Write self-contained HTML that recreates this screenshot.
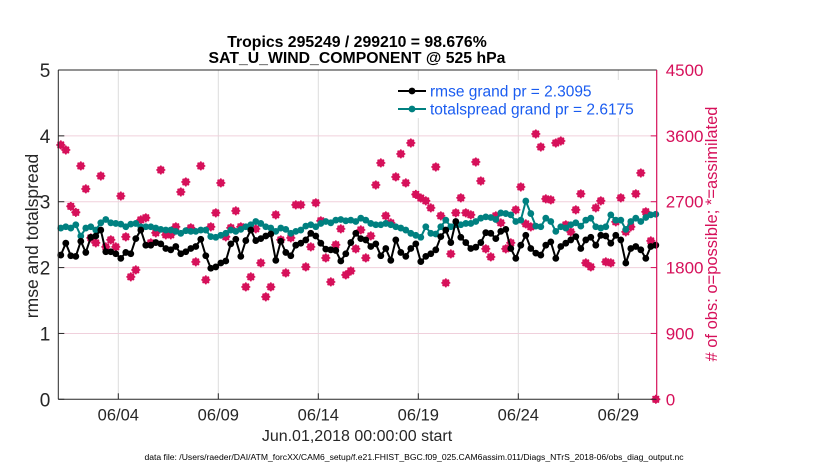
<!DOCTYPE html>
<html><head><meta charset="utf-8"><style>
html,body{margin:0;padding:0;background:#fff;}
svg{display:block;font-family:"Liberation Sans",sans-serif;}
</style></head><body>
<svg id="chart" width="830" height="470" viewBox="0 0 830 470">
<text x="357" y="47" text-anchor="middle" font-size="15.8" font-weight="bold">Tropics 295249 / 299210 = 98.676%</text>
<text x="357" y="63" text-anchor="middle" font-size="15.8" font-weight="bold">SAT_U_WIND_COMPONENT @ 525 hPa</text>
<g id="grid"></g>
<g id="series"></g>
<g id="axes"></g>
<text x="357" y="441" text-anchor="middle" font-size="16" fill="#262626">Jun.01,2018 00:00:00 start</text>
<text transform="translate(38,236) rotate(-90)" text-anchor="middle" font-size="17.5" fill="#262626">rmse and totalspread</text>
<text transform="translate(717,234) rotate(-90)" text-anchor="middle" font-size="16.5" fill="#d6105a"># of obs: o=possible; *=assimilated</text>
<text x="414" y="460" text-anchor="middle" font-size="8.6" fill="#000">data file: /Users/raeder/DAI/ATM_forcXX/CAM6_setup/f.e21.FHIST_BGC.f09_025.CAM6assim.011/Diags_NTrS_2018-06/obs_diag_output.nc</text>
<g id="legend"></g>
</svg>
<script>
const xTickLabels=["06/04","06/09","06/14","06/19","06/24","06/29"];
const xTickDays=[3,8,13,18,23,28];
const yLeftTicks=[0,1,2,3,4,5];
const yRightTicks=[0,900,1800,2700,3600,4500];
const rmse=[2.19,2.37,2.18,2.17,2.40,2.23,2.46,2.48,2.57,2.24,2.24,2.21,2.14,2.23,2.21,2.44,2.57,2.34,2.34,2.38,2.36,2.29,2.27,2.32,2.21,2.24,2.29,2.32,2.43,2.18,1.99,2.01,2.07,2.10,2.36,2.43,2.17,2.41,2.57,2.41,2.44,2.48,2.51,2.11,2.40,2.23,2.18,2.34,2.37,2.42,2.52,2.48,2.37,2.28,2.27,2.26,2.10,2.21,2.38,2.52,
2.44,2.42,2.32,2.36,2.18,2.29,2.11,2.42,2.23,2.17,2.29,2.36,2.09,2.17,2.21,2.27,2.47,2.57,2.38,2.70,2.46,2.38,2.29,2.31,2.38,2.53,2.52,2.44,2.55,2.58,2.29,2.14,2.34,2.49,2.29,2.22,2.19,2.34,2.39,2.14,2.32,2.37,2.42,2.47,2.29,2.42,2.46,2.34,2.49,2.48,2.37,2.49,2.42,2.07,2.29,2.32,2.27,2.14,2.32,2.34];
const spread=[2.60,2.62,2.60,2.65,2.48,2.60,2.62,2.57,2.68,2.73,2.68,2.67,2.66,2.62,2.66,2.67,2.62,2.62,2.62,2.60,2.58,2.57,2.57,2.55,2.52,2.56,2.55,2.55,2.57,2.57,2.47,2.46,2.49,2.52,2.57,2.55,2.58,2.62,2.65,2.70,2.67,2.62,2.60,2.55,2.60,2.58,2.52,2.55,2.57,2.63,2.65,2.62,2.67,2.70,2.68,2.72,2.73,2.71,2.72,2.70,
2.75,2.72,2.67,2.65,2.65,2.67,2.65,2.62,2.60,2.57,2.52,2.49,2.46,2.62,2.52,2.51,2.62,2.72,2.62,2.65,2.65,2.67,2.67,2.70,2.75,2.77,2.76,2.73,2.83,2.82,2.80,2.70,2.72,3.01,2.82,2.63,2.62,2.75,2.70,2.55,2.62,2.60,2.65,2.68,2.63,2.72,2.75,2.62,2.60,2.62,2.80,2.72,2.72,2.58,2.70,2.75,2.70,2.76,2.80,2.81];
const obsCount=[3476,3407,2637,2555,3189,2875,2206,2138,3052,2083,2179,2083,2778,2220,1673,1768,2452,2480,2138,2275,3134,2247,2247,2357,2833,2970,2343,1878,3189,1632,2357,2548,
2957,2220,2343,2575,2357,1536,1673,2329,1864,1400,1536,2521,2179,1727,2206,2657,2657,1809,2083,2685,2439,1932,1604,2111,2329,1700,1754,2056,
2315,1932,2233,2929,3230,2507,2411,3039,3353,2957,3503,2800,2750,
2712,2616,3175,2507,1591,1987,2548,2753,2548,2521,3243,2984,2056,1946,2507,2411,2056,2138,2589,2902,2397,2357,3626,3448,2739,2725,3503,3530,2384,2288,2589,2808,1864,1809,2616,2712,1878,1864,2425,2753,2288,2357,2808,3093,2562,2165,0];

const NS="http://www.w3.org/2000/svg";
const X0=58.3,X1=656.7,Y0=399.3,Y1=70;
const dMin=0,dMax=29.92;
function xs(d){return X0+(d-dMin)/(dMax-dMin)*(X1-X0);}
function yl(v){return Y0-v/5*(Y0-Y1);}
function yr(v){return Y0-v/4500*(Y0-Y1);}
function dayOf(i){return 0.125+0.25*i;}
function mk(tag,attrs,parent){const e=document.createElementNS(NS,tag);for(const k in attrs)e.setAttribute(k,attrs[k]);parent.appendChild(e);return e;}
const grid=document.getElementById('grid'),axes=document.getElementById('axes'),ser=document.getElementById('series'),leg=document.getElementById('legend');
mk('rect',{x:X0,y:Y1,width:X1-X0,height:Y0-Y1,fill:'#fff'},grid);
xTickDays.forEach((d,k)=>{
  const l=mk('line',{x1:xs(d),x2:xs(d),y1:Y1,y2:Y0,stroke:'#dcdcdc','stroke-width':1},grid);
  
  
  mk('line',{x1:xs(d),x2:xs(d),y1:Y0,y2:Y0-6,stroke:'#262626','stroke-width':1},axes);
  const tx=mk('text',{x:xs(d),y:Y0+21,'text-anchor':'middle','font-size':16.5,fill:'#262626'},axes);
  tx.textContent=xTickLabels[k];
  
  
});
yRightTicks.forEach(v=>{
  if(v>0&&v<4500){const l=mk('line',{x1:X0,x2:X1,y1:yr(v),y2:yr(v),stroke:'#f0d0dc','stroke-width':1},grid);
  
  }
  mk('line',{x1:X1,x2:X1-6,y1:yr(v),y2:yr(v),stroke:'#d6105a'},axes);
  const t=mk('text',{x:X1+9,y:yr(v)+6,'font-size':17,fill:'#d6105a'},axes);
  t.textContent=String(v);
  
  
});
yLeftTicks.forEach(v=>{
  mk('line',{x1:X0,x2:X0+6,y1:yl(v),y2:yl(v),stroke:'#262626'},axes);
  const t=mk('text',{x:X0-8,y:yl(v)+7,'text-anchor':'end','font-size':19,fill:'#262626'},axes);
  t.textContent=String(v);
  
  
});
mk('line',{x1:X0,x2:X1,y1:Y1,y2:Y1,stroke:'#262626'},axes);
mk('line',{x1:X0,x2:X1,y1:Y0,y2:Y0,stroke:'#262626'},axes);
mk('line',{x1:X0,x2:X0,y1:Y1,y2:Y0,stroke:'#262626'},axes);
mk('line',{x1:X1,x2:X1,y1:Y1,y2:Y0,stroke:'#d6105a','stroke-width':1.2},axes);

obsCount.forEach((c,i)=>{
  const x=xs(dayOf(i)),y=yr(c);
  const g=mk('g',{stroke:'#d6105a','stroke-width':1.6,fill:'none'},ser);
  
  
  mk('circle',{cx:x,cy:y,r:3},g);
  mk('path',{d:`M${x-4.5},${y}H${x+4.5}M${x},${y-4.5}V${y+4.5}M${x-3.2},${y-3.2}L${x+3.2},${y+3.2}M${x-3.2},${y+3.2}L${x+3.2},${y-3.2}`},g);
});
function line(vals,color,name){
  const pts=vals.map((v,i)=>xs(dayOf(i)).toFixed(1)+','+yl(v).toFixed(1)).join(' ');
  const p=mk('polyline',{points:pts,fill:'none',stroke:color,'stroke-width':2},ser);
  
  
  vals.forEach((v,i)=>{
    const c=mk('circle',{cx:xs(dayOf(i)),cy:yl(v),r:3.4,fill:color},ser);
    
    
  });
}
line(spread,'#008080','totalspread');
line(rmse,'#000000','rmse');
mk('rect',{x:395,y:80,width:252,height:38,fill:'#fff'},leg);
[[91,'#000','rmse grand pr = 2.3095','legend-rmse'],[109,'#008080','totalspread grand pr = 2.6175','legend-totalspread']].forEach(r=>{
  const g=mk('g',{},leg);
  
  
  mk('line',{x1:398,x2:426,y1:r[0],y2:r[0],stroke:r[1],'stroke-width':2},g);
  mk('circle',{cx:412,cy:r[0],r:3.4,fill:r[1]},g);
  const t=mk('text',{x:430,y:r[0]+5.5,'font-size':15.5,fill:'#1a5cf0'},g);
  t.textContent=r[2];
});
</script>
</body></html>
